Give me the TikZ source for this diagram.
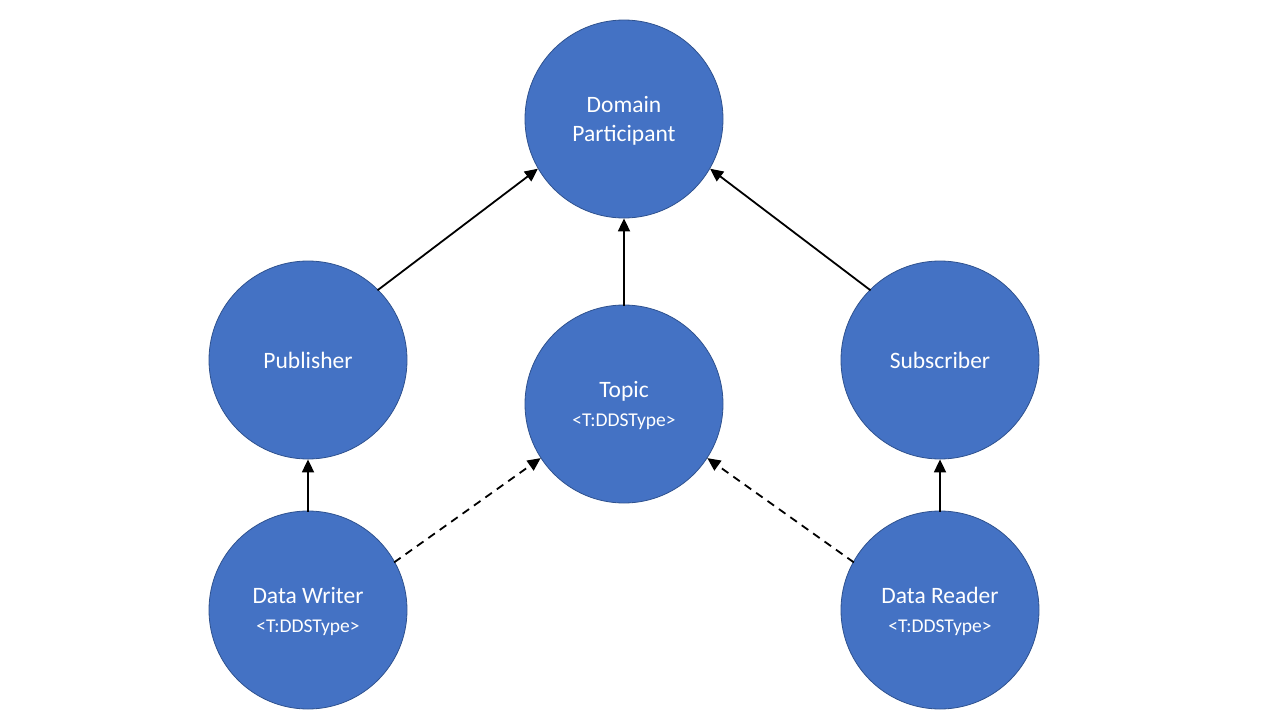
\documentclass[tikz,border=0pt]{standalone}
\usepackage{fontspec}
\setmainfont{Carlito}
\usetikzlibrary{arrows.meta}
\definecolor{nodefill}{HTML}{4472C4}
\definecolor{nodeline}{HTML}{2F528F}
\begin{document}
\begin{tikzpicture}[x=1pt,y=-1pt,
  ent/.style={circle, minimum size=198pt, inner sep=0pt, fill=nodefill, draw=nodeline, line width=0.8pt,
    text=white, align=center, font=\fontsize{23.5}{29}\selectfont},
  conn/.style={line width=1.8pt, -{Triangle[length=13pt,width=12pt]}, shorten <=-1pt},
  dconn/.style={conn, dash pattern=on 8pt off 6pt}]
\useasboundingbox (0,0) rectangle (1280,720);
\newcommand{\sub}[1]{{\fontsize{19.5}{29}\selectfont #1}}
\newcommand{\twol}[2]{\rule{0pt}{20pt}#1\\#2}
\node[ent] (dp) at (624,119) {\twol{Domain}{Participant}};
\node[ent] (pub) at (308,360) {Publisher};
\node[ent] (topic) at (624,404) {\twol{Topic}{\sub{<T:DDSType>}}};
\node[ent] (sub) at (940,360) {Subscriber};
\node[ent] (dw) at (308,610) {\twol{Data Writer}{\sub{<T:DDSType>}}};
\node[ent] (dr) at (940,610) {\twol{Data Reader}{\sub{<T:DDSType>}}};
\draw[conn] (pub.45) -- (dp.210);
\draw[conn] (topic) -- (dp);
\draw[conn] (sub.135) -- (dp.330);
\draw[conn] (dw) -- (pub);
\draw[conn] (dr) -- (sub);
\draw[dconn] (dw.29) -- (topic.213);
\draw[dconn] (dr.151) -- (topic.327);
\end{tikzpicture}
\end{document}
